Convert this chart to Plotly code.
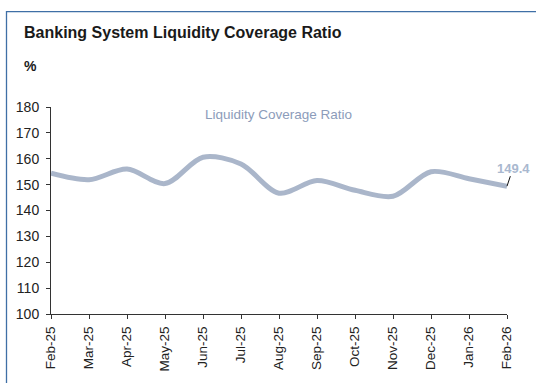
import plotly.graph_objects as go

months = ["Feb-25", "Mar-25", "Apr-25", "May-25", "Jun-25", "Jul-25", "Aug-25",
          "Sep-25", "Oct-25", "Nov-25", "Dec-25", "Jan-26", "Feb-26"]
lcr = [154.4, 151.9, 156.0, 150.4, 160.6, 158.0, 146.7, 151.6, 147.8, 145.5, 155.0, 152.3, 149.4]
y_ticks = [100, 110, 120, 130, 140, 150, 160, 170, 180]
series_name = "Liquidity Coverage Ratio"
title = "Banking System Liquidity Coverage Ratio"
unit = "%"

W, H = 536, 383
ML, MR, MT, MB = 51, 29, 107, 62
PW, PH = W - ML - MR, H - MT - MB


def px(x):
    return (x - ML) / PW


def py(y):
    return (H - MB - y) / PH


FONT = "Liberation Sans, Arial, sans-serif"
xs = list(range(len(months)))

fig = go.Figure()
fig.add_trace(go.Scatter(
    x=xs, y=lcr, mode="lines", name=series_name,
    line=dict(color="#AAB6CA", width=5, shape="spline", smoothing=0.9),
    hoverinfo="x+y",
))

fig.update_layout(
    width=W, height=H,
    margin=dict(l=ML, r=MR, t=MT, b=MB),
    paper_bgcolor="white", plot_bgcolor="white",
    showlegend=False,
    font=dict(family=FONT, color="#222222"),
    xaxis=dict(
        range=[0, len(months) - 1], tickmode="array", tickvals=xs, ticktext=months,
        tickangle=-90, ticks="outside", ticklen=4, tickcolor="#333333",
        showline=True, linecolor="#333333", linewidth=1, showgrid=False, zeroline=False,
        ticklabelstandoff=2,
        tickfont=dict(size=13.5, family=FONT, color="#222222"),
    ),
    yaxis=dict(
        range=[100, 180], tickmode="array", tickvals=y_ticks,
        ticks="outside", ticklen=4, tickcolor="#333333",
        showline=True, linecolor="#333333", linewidth=1, showgrid=False, zeroline=False,
        ticklabelstandoff=4,
        tickfont=dict(size=14, family=FONT, color="#222222"),
    ),
)

fig.add_shape(type="rect", xref="paper", yref="paper",
              x0=px(6.5), x1=px(W + 10), y0=py(H + 10), y1=py(8.5),
              line=dict(color="#3F6FA6", width=1.3), layer="above")

fig.add_annotation(xref="paper", yref="paper", x=px(22), y=py(30), xanchor="left", yanchor="middle",
                   text="<b>" + title + "</b>", showarrow=False,
                   font=dict(size=16, family=FONT, color="#1A1A1A"))
fig.add_annotation(xref="paper", yref="paper", x=px(22), y=py(65), xanchor="left", yanchor="middle",
                   text="<b>" + unit + "</b>", showarrow=False,
                   font=dict(size=14, family=FONT, color="#1A1A1A"))
fig.add_annotation(xref="paper", yref="paper", x=px(278), y=py(115), xanchor="center", yanchor="middle",
                   text=series_name, showarrow=False,
                   font=dict(size=13.5, family=FONT, color="#8C9CBA"))
fig.add_annotation(x=xs[-1], y=lcr[-1], text="<b>" + f"{lcr[-1]:.1f}" + "</b>",
                   showarrow=True, arrowhead=0, arrowwidth=1, arrowcolor="#111111",
                   ax=6, ay=-18, borderpad=0, standoff=0,
                   font=dict(size=13, family=FONT, color="#A9B8CF"))

fig.write_html("out.html")
